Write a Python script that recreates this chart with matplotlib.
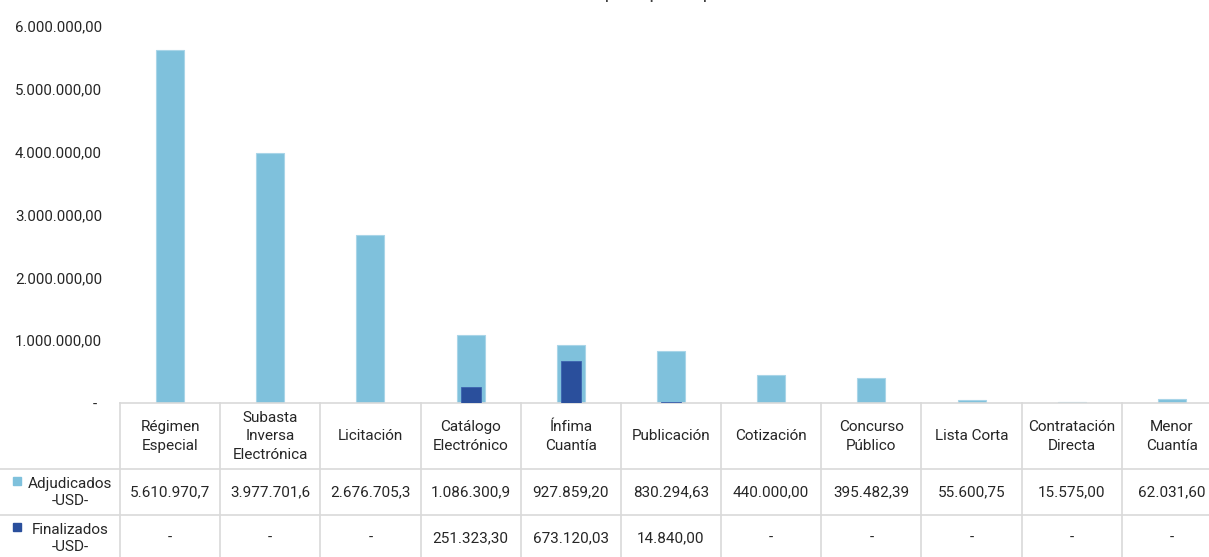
import numpy as np
import matplotlib
matplotlib.use("Agg")
import matplotlib.pyplot as plt
from matplotlib.lines import Line2D
from matplotlib.patches import Rectangle

plt.rcParams['font.family'] = ['Roboto', 'DejaVu Sans']

# ---------------- data ----------------
categories = ["Régimen\nEspecial", "Subasta\nInversa\nElectrónica", "Licitación",
              "Catálogo\nElectrónico", "Ínfima\nCuantía", "Publicación", "Cotización",
              "Concurso\nPúblico", "Lista Corta", "Contratación\nDirecta", "Menor\nCuantía"]
adjudicados = [5610970.70, 3977701.60, 2676705.30, 1086300.90, 927859.20, 830294.63,
               440000.00, 395482.39, 55600.75, 15575.00, 62031.60]
finalizados = [np.nan, np.nan, np.nan, 251323.30, 673120.03, 14840.00,
               np.nan, np.nan, np.nan, np.nan, np.nan]
adj_labels = ["5.610.970,7", "3.977.701,6", "2.676.705,3", "1.086.300,9", "927.859,20",
              "830.294,63", "440.000,00", "395.482,39", "55.600,75", "15.575,00", "62.031,60"]
fin_labels = ["-", "-", "-", "251.323,30", "673.120,03", "14.840,00", "-", "-", "-", "-", "-"]
series_names = ["Adjudicados\n-USD-", "Finalizados\n-USD-"]
yticks = [0, 1e6, 2e6, 3e6, 4e6, 5e6, 6e6]
ytick_labels = ["-", "1.000.000,00", "2.000.000,00", "3.000.000,00", "4.000.000,00",
                "5.000.000,00", "6.000.000,00"]
title = "Montos por tipo de procedimiento"

# ---------------- style ----------------
C_ADJ = "#7FC1DC"
C_FIN = "#2A4F9C"
C_GRID = "#D9D9D9"
C_TXT = "#262626"
W, H = 1209, 557

fig = plt.figure(figsize=(W / 100, H / 100), dpi=100)

def fx(px):
    return px / W

def fy(py):
    return 1 - py / H

# plot area (pixel geometry)
X0, X1 = 120, 1222
Y_BASE, Y_TOP = 403, 26
ax = fig.add_axes([fx(X0), fy(Y_BASE), fx(X1) - fx(X0), fy(Y_TOP) - fy(Y_BASE)])
x = np.arange(len(categories))
ax.bar(x, adjudicados, width=0.28, color=C_ADJ, edgecolor="#A9D5E8", linewidth=0.8, zorder=2)
ax.bar(x, finalizados, width=0.20, color=C_FIN, edgecolor="#3D62AE", linewidth=0.6, zorder=3)
ax.set_xlim(-0.5, len(categories) - 0.5)
ax.set_ylim(0, 6e6)
ax.set_yticks(yticks)
ax.set_yticklabels(ytick_labels)
ax.tick_params(axis="y", length=0, pad=13, labelsize=10.8, labelcolor=C_TXT)
ax.tick_params(axis="x", length=0, labelbottom=False)
for s in ["top", "right", "left"]:
    ax.spines[s].set_visible(False)
ax.spines["bottom"].set_color(C_GRID)
ax.spines["bottom"].set_linewidth(1.2)
# shift the zero label ("-") a bit left like Excel accounting format
for lbl in ax.get_yticklabels():
    if lbl.get_text() == "-":
        lbl.set_x(-0.005)

# ---------------- data table ----------------
tab = fig.add_axes([0, 0, 1, 1], facecolor="none")
tab.set_xlim(0, W)
tab.set_ylim(H, 0)
tab.axis("off")

col_w = (X1 - X0) / len(categories)
R1, R2, R3, R4 = 403, 469, 515, 561
lw = 1.2
# horizontal lines
for yy in (R2, R3):
    tab.add_line(Line2D([0, X1], [yy, yy], color=C_GRID, lw=lw))
# vertical lines
for i in range(len(categories) + 1):
    xx = X0 + i * col_w
    tab.add_line(Line2D([xx, xx], [R1, R4], color=C_GRID, lw=lw))

fs = 11
for i, cat in enumerate(categories):
    cx = X0 + (i + 0.5) * col_w
    tab.text(cx, (R1 + R2) / 2 + 0.5, cat, ha="center", va="center", fontsize=fs,
             color=C_TXT, linespacing=1.42)
    tab.text(cx, (R2 + R3) / 2, adj_labels[i], ha="center", va="center", fontsize=fs, color=C_TXT)
    tab.text(cx, (R3 + R4) / 2, fin_labels[i], ha="center", va="center", fontsize=fs, color=C_TXT)

# legend keys in the table's first column
for (r0, r1), name, col in zip([(R2, R3), (R3, R4)], series_names, [C_ADJ, C_FIN]):
    cy = (r0 + r1) / 2
    tab.text(70, cy + 0.5, name, ha="center", va="center", fontsize=fs, color=C_TXT,
             linespacing=1.35, multialignment="center")
    tab.add_patch(Rectangle((13, cy - 15), 8, 8, color=col))

# title (cut off at the top edge as in the source image)
fig.text(fx(681), 1 + 1.5 / H, title, ha="center", va="baseline", fontsize=14, color="#404040")

fig.savefig("out.png", dpi=100)
